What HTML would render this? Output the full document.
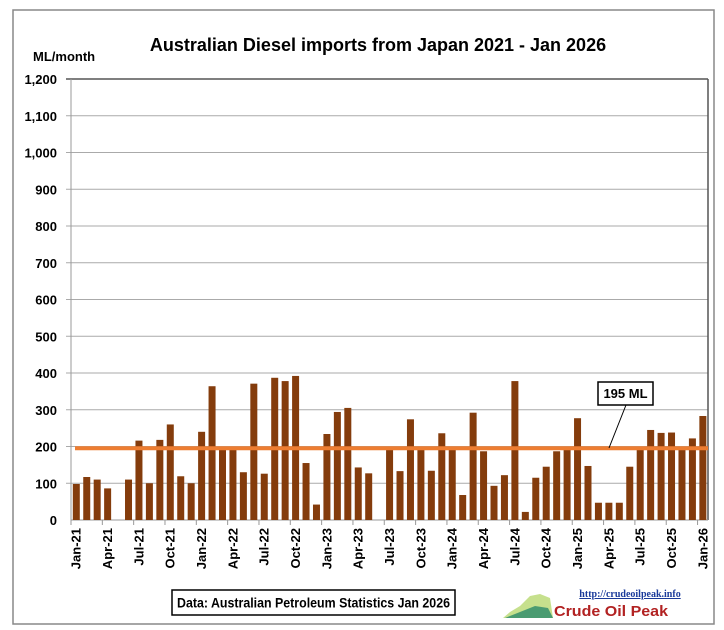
<!DOCTYPE html>
<html><head><meta charset="utf-8"><style>body{margin:0;background:#fff}svg{display:block;font-family:"Liberation Sans",sans-serif}</style></head><body>
<svg width="724" height="630" xmlns="http://www.w3.org/2000/svg">
<rect x="13" y="10" width="701" height="614" fill="#fff" stroke="#888" stroke-width="1.5"/>
<text x="378" y="51" text-anchor="middle" font-size="18" font-weight="bold">Australian Diesel imports from Japan 2021 - Jan 2026</text>
<text x="33" y="61" font-size="13" font-weight="bold">ML/month</text>
<g id="grid"></g>
<g id="bars"></g>
<line x1="75" y1="448.3" x2="708" y2="448.3" stroke="#ed7d31" stroke-width="4"/>
<line x1="626" y1="405" x2="609" y2="448" stroke="#000" stroke-width="1"/>
<rect x="598" y="382" width="55" height="23" fill="#fff" stroke="#000" stroke-width="1.5"/>
<text x="625.5" y="398" text-anchor="middle" font-size="13" font-weight="bold">195 ML</text>
<rect x="172" y="590" width="283" height="25" fill="#fff" stroke="#000" stroke-width="1.5"/>
<text x="177" y="607.5" font-size="14" font-weight="bold" textLength="273" lengthAdjust="spacingAndGlyphs">Data: Australian Petroleum Statistics Jan 2026</text>
<path d="M503 618 L510 612 L520 606 L530 596 L540 594 L550 598 L553 618 Z" fill="#b8d870" opacity="0.8"/>
<path d="M505 618 L520 612 L535 606 L548 608 L553 618 Z" fill="#2a8a6a" opacity="0.8"/>
<text x="630" y="597" text-anchor="middle" font-size="10" font-weight="bold" fill="#1a3a9a" font-family="Liberation Serif,serif" text-decoration="underline">http://crudeoilpeak.info</text>
<text x="554" y="616" font-size="15" font-weight="bold" fill="#b22222" textLength="114" lengthAdjust="spacingAndGlyphs">Crude Oil Peak</text>
</svg>
<script>
const ns="http://www.w3.org/2000/svg",svg=document.querySelector('svg');
function el(t,a,txt,parent){const e=document.createElementNS(ns,t);for(const k in a)e.setAttribute(k,a[k]);if(txt!=null)e.textContent=txt;(parent||svg).appendChild(e);return e;}
const g=document.getElementById('grid'),b=document.getElementById('bars');
const x0=71,x1=708,y0=520,s=441/1200;
for(let v=0;v<=1200;v+=100){const y=y0-v*s;
 if(v>0)el('line',{x1:x0-5,y1:y,x2:x1,y2:y,stroke:v==1200?'#555':'#aaa','stroke-width':v==1200?1.5:1},null,g);
 el('text',{x:57,y:y+5,'text-anchor':'end','font-size':13,'font-weight':'bold'},v.toLocaleString('en-US'),g);}
el('line',{x1:x0,y1:79,x2:x0,y2:y0+5,stroke:'#999'},null,g);
el('line',{x1:x1,y1:79,x2:x1,y2:y0,stroke:'#555','stroke-width':1.5},null,g);
el('line',{x1:x0,y1:y0,x2:x1,y2:y0,stroke:'#999'},null,g);
const d=[98,117,110,86,0,110,216,100,218,260,119,100,240,364,195,195,130,371,126,387,378,392,155,42,234,294,305,143,127,0,195,133,274,195,134,236,195,68,292,187,93,122,378,22,115,145,187,195,277,147,47,47,47,145,195,245,237,238,195,222,283];
const W=(x1-x0)/61;
const mo=['Jan','Apr','Jul','Oct'];
d.forEach((v,i)=>{const x=x0+i*W;
 if(v>0)el('rect',{x:x+1.8,y:y0-v*s,width:7,height:v*s,fill:'#843c0c'},null,b);
 if(i%3==0){el('line',{x1:x,y1:y0,x2:x,y2:y0+5,stroke:'#999'},null,g);
  const yr=21+Math.floor(i/12);const cx=x+W/2+4.5;
  el('text',{x:cx,y:528,'text-anchor':'end','font-size':13,'font-weight':'bold',transform:`rotate(-90 ${cx} 528)`},mo[(i%12)/3]+'-'+yr,g);}
});
</script>
</body></html>
